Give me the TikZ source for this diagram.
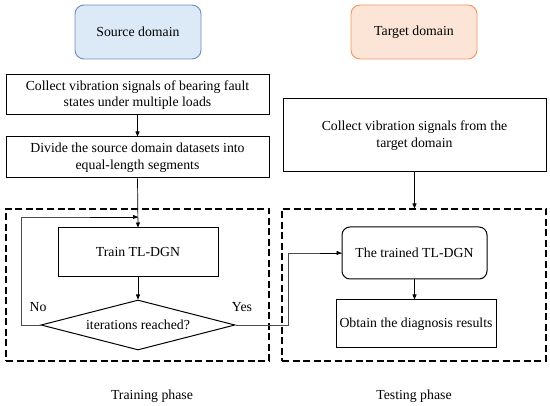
\documentclass[tikz,border=0pt]{standalone}
\usepackage{fontspec}
\setmainfont{Liberation Serif}
\usetikzlibrary{shapes.geometric,arrows.meta}
\definecolor{srcfill}{RGB}{220,233,246}
\definecolor{srcdraw}{RGB}{110,140,185}
\definecolor{tgtfill}{RGB}{252,229,214}
\definecolor{tgtdraw}{RGB}{238,150,100}
\begin{document}
\begin{tikzpicture}[x=1pt,y=-1pt,
  every node/.style={font=\fontsize{13.8}{16.5}\selectfont, inner sep=0pt, align=center},
  domainbox/.style={draw, rounded corners=9pt, line width=0.9pt, minimum width=126pt, minimum height=54pt},
  procbox/.style={draw, line width=1pt, minimum width=263pt},
  phasebox/.style={draw, dashed, dash pattern=on 7pt off 3.5pt, line width=1.1pt},
  conn/.style={line width=0.7pt, -{Triangle[length=5pt,width=4pt]}},
  plainconn/.style={line width=0.7pt, draw=black!70}
]
\useasboundingbox (0,0) rectangle (550,406);
% domain headers
\node[domainbox, fill=srcfill, draw=srcdraw] (src) at (138,32) {Source domain};
\node[domainbox, fill=tgtfill, draw=tgtdraw] (tgt) at (414,32) {Target domain};
% left column
\node[procbox, minimum height=40pt] (collL) at (137.5,95) {Collect vibration signals of bearing fault\\states under multiple loads};
\node[procbox, minimum height=41pt] (divide) at (137.5,157.5) {Divide the source domain datasets into\\equal-length segments};
\node[phasebox, minimum width=263pt, minimum height=152pt] (dashL) at (137.5,285) {};
\node[draw, line width=1pt, minimum width=160pt, minimum height=49pt] (train) at (138,252.5) {Train TL-DGN};
\node[draw, diamond, line width=1pt, minimum width=194pt, minimum height=50pt, aspect=3.88] (diam) at (138,325) {iterations reached?};
% right column
\node[procbox, minimum height=73pt, minimum width=263pt] (collR) at (414.5,135.5) {Collect vibration signals from the\\target domain};
\node[phasebox, minimum width=264pt, minimum height=152pt] (dashR) at (414,285) {};
\node[draw, rounded corners=8pt, line width=1pt, minimum width=145pt, minimum height=52pt] (trained) at (414.5,253) {The trained TL-DGN};
\node[draw, line width=1pt, minimum width=160pt, minimum height=48pt] (obtain) at (416,324) {Obtain the diagnosis results};
% labels
\node (nolab) at (38,307) {No};
\node (yeslab) at (242,307) {Yes};
\node (trainph) at (152,396) {Training phase};
\node (testph) at (414,396) {Testing phase};
% connectors
\coordinate (loopjoin) at (138,217);
\draw[conn] (collL.south) -- (divide.north);
\draw[conn] (divide.south) -- (train.north);
\draw[conn] (train.south) -- (diam.north);
\draw[plainconn] (diam.west) -- (21,325) |- (loopjoin);
\draw[conn] (90,217) -- (loopjoin);
\draw[plainconn] (diam.east) -- (288,325) |- (trained.west);
\draw[conn] (320,253) -- (trained.west);
\draw[conn] (collR.south) -- (dashR.north -| collR.south);
\draw[conn] (trained.south) -- (trained.south |- obtain.north);
\end{tikzpicture}
\end{document}
